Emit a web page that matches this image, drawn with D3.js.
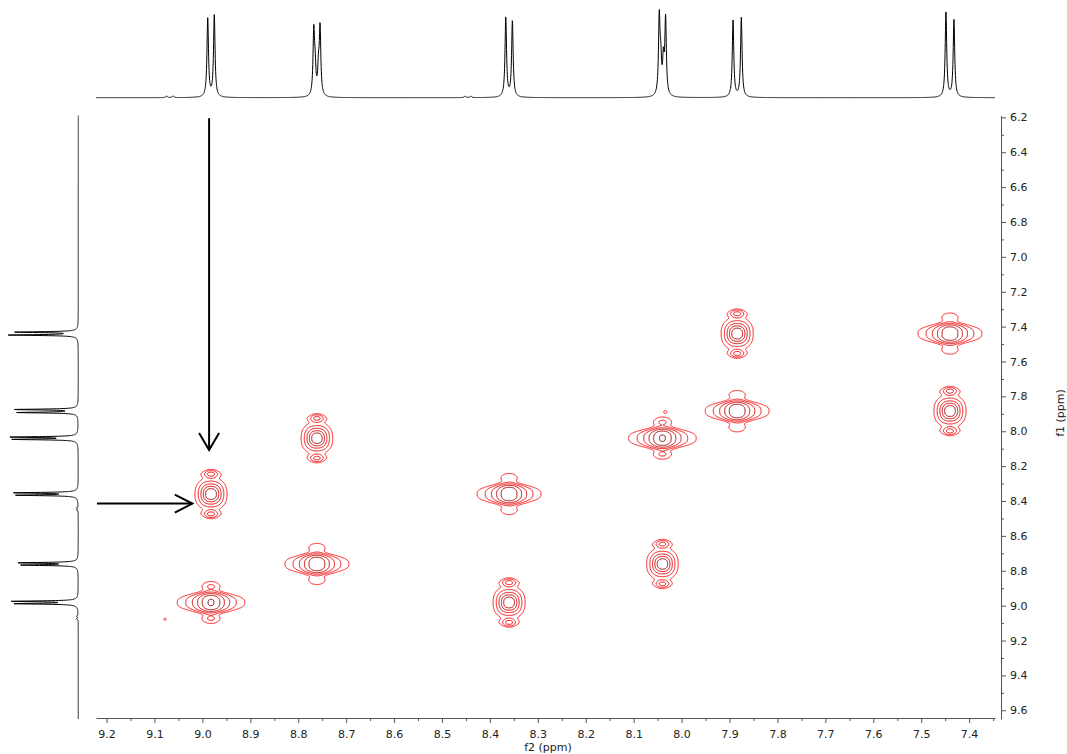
<!DOCTYPE html>
<html>
<head>
<meta charset="utf-8">
<script src="https://cdn.jsdelivr.net/npm/d3@7"></script>
<style>
  body { margin: 0; background: #fff; }
  svg { display: block; }
  text { font-family: "DejaVu Sans", Verdana, sans-serif; }
</style>
</head>
<body>
<svg id="chart" width="1067" height="754"></svg>
<script>
// ---- spectral data -------------------------------------------------------
// Multiplet centres (ppm) of the six aromatic doublets
const shifts = [8.982, 8.761, 8.360, 8.040, 7.884, 7.440];
// Doublet splitting of each multiplet (ppm)
const splittings = [0.0137, 0.0131, 0.0138, 0.0132, 0.0173, 0.0167];
// F2 projection: line heights of each doublet [high-ppm line, low-ppm line]
const topHeights = [[78.7, 81.7], [63.5, 67.0], [79.4, 75.7], [77.3, 76.0], [77.0, 79.7], [85.7, 78.0]];
// F1 projection: line heights of each doublet [high-ppm line, low-ppm line]
const sideHeights = [[61.6, 64.3], [55.0, 57.6], [60.0, 62.3], [63.3, 65.6], [60.0, 62.3], [68.3, 61.6]];
// Small long-range splittings seen as shoulders in F2 [ppm, height]
const shoulderLines = [[8.7647, 25], [8.7578, 25], [8.0434, 30], [8.0380, 33]];
// Trace impurity lines [ppm, height]
const minorLines = [[9.075, 1.7], [9.061, 1.7], [8.452, 1.5], [8.440, 1.5]];
// Correlation peaks: [F2 multiplet, F1 multiplet, intensity]
const crossPeaks = [
  [0, 0, 1.20], [0, 2, 1.05],
  [1, 1, 1.05], [1, 3, 1.00],
  [2, 2, 1.05], [2, 0, 1.05],
  [3, 3, 1.20], [3, 1, 1.00],
  [4, 4, 1.05], [4, 5, 1.05],
  [5, 5, 1.05], [5, 4, 1.05]
];
// Isolated weak responses: [F2 ppm, F1 ppm, intensity]
const weakPeaks = [[9.078, 9.078, 0.05], [8.034, 7.889, 0.055]];
// Axis tick labels
const f2Ticks = [9.2, 9.1, 9.0, 8.9, 8.8, 8.7, 8.6, 8.5, 8.4, 8.3, 8.2, 8.1, 8.0, 7.9, 7.8, 7.7, 7.6, 7.5, 7.4];
const f1Ticks = [6.2, 6.4, 6.6, 6.8, 7.0, 7.2, 7.4, 7.6, 7.8, 8.0, 8.2, 8.4, 8.6, 8.8, 9.0, 9.2, 9.4, 9.6];
// Contour levels (relative intensity)
const contourLevels = [0.035, 0.07, 0.14, 0.28, 0.56, 1.12];

// ---- layout --------------------------------------------------------------
const svg = d3.select("#chart");
const x = d3.scaleLinear().domain([9.222, 7.346]).range([96, 995]);
const y = d3.scaleLinear().domain([6.19, 9.65]).range([115.6, 719]);
const axisY = 718;       // bottom axis baseline
const axisX = 1001;      // right axis position
const topScale = d3.scaleLinear().domain([0, 100]).range([97.7, -2.3]);
const sideScale = d3.scaleLinear().domain([0, 100]).range([78.3, -21.7]);

// ---- 1D projections ------------------------------------------------------
const topLineWidth = 0.0019;   // Lorentzian half width (ppm)
const sideLineWidth = 0.0030;

function lines(heights) {
  const out = [];
  shifts.forEach((s, i) => {
    out.push([s + splittings[i] / 2, heights[i][0]]);
    out.push([s - splittings[i] / 2, heights[i][1]]);
  });
  return out;
}
const topLines = lines(topHeights).concat(shoulderLines, minorLines);
const sideLines = lines(sideHeights).concat(minorLines);

function spectrum(lineList, hw, from, to, n) {
  const pts = [];
  for (let k = 0; k <= n; k++) {
    const p = from + (to - from) * k / n;
    let v = 0;
    for (const [c, h] of lineList) {
      const u = (p - c) / hw;
      v += h / (1 + u * u);
    }
    pts.push([p, v]);
  }
  return pts;
}

const topData = spectrum(topLines, topLineWidth, x.domain()[0], x.domain()[1], 4500);
svg.append("path")
  .datum(topData)
  .attr("fill", "none")
  .attr("stroke", "#000")
  .attr("stroke-width", 1)
  .attr("d", d3.line().x(d => x(d[0])).y(d => topScale(d[1])));

const sideData = spectrum(sideLines, sideLineWidth, y.domain()[0], y.domain()[1], 7000);
svg.append("path")
  .datum(sideData)
  .attr("fill", "none")
  .attr("stroke", "#000")
  .attr("stroke-width", 1)
  .attr("d", d3.line().x(d => sideScale(d[1])).y(d => y(d[0])));

// ---- 2D contour map ------------------------------------------------------
const res = 0.5;                                  // grid step in px
const [px0, px1] = x.range(), [py0, py1] = y.range();
const nx = Math.ceil((px1 - px0) / res), ny = Math.ceil((py1 - py0) / res);
const gx = d3.scaleLinear().domain([0, nx]).range([x.invert(px0), x.invert(px0 + nx * res)]);
const gy = d3.scaleLinear().domain([0, ny]).range([y.invert(py0), y.invert(py0 + ny * res)]);
const field = new Float64Array(nx * ny);

const gauss = (d, s) => Math.exp(-d * d / (2 * s * s));
const powerShape = (d, h, p) => 1 / (1 + Math.pow(Math.abs(d) / h, p));

// Diagonal response (px offsets): long F2 tails, flat-topped F1 profile with side lobes
const diag = { h: 8.3, p: 2.5, w: 7.8, q: 3.0, lobePos: 16, lobeW: 3.9, lobeAmp: 0.065 };
function diagShape(dx, dy) {
  const fy = Math.exp(-Math.pow(Math.abs(dy) / diag.w, diag.q)) +
    diag.lobeAmp * (gauss(dy - diag.lobePos, diag.lobeW) + gauss(dy + diag.lobePos, diag.lobeW));
  return powerShape(dx, diag.h, diag.p) * fy;
}
// Cross response: rounded body plus small F1 side lobes
const cross = { hx: 5.6, hy: 5.6, p: 3.2, m: 2.4, lobePos: 20, lobeW: 2.4, lobeAmp: 0.16, lobeH: 5 };
function crossShape(dx, dy) {
  const r = Math.pow(Math.pow(Math.abs(dx) / cross.hx, cross.m) + Math.pow(Math.abs(dy) / cross.hy, cross.m), 1 / cross.m);
  const body = 1 / (1 + Math.pow(r, cross.p));
  const lobes = cross.lobeAmp * powerShape(dx, cross.lobeH, 2.8) *
    (gauss(dy - cross.lobePos, cross.lobeW) + gauss(dy + cross.lobePos, cross.lobeW));
  return body + lobes;
}
const weakShape = (dx, dy) => gauss(dx, 1.3) * gauss(dy, 1.3);

function addPeak(cx, cy, amp, shape) {
  const i0 = Math.max(0, Math.floor((cx - 80 - px0) / res)), i1 = Math.min(nx - 1, Math.ceil((cx + 80 - px0) / res));
  const j0 = Math.max(0, Math.floor((cy - 40 - py0) / res)), j1 = Math.min(ny - 1, Math.ceil((cy + 40 - py0) / res));
  for (let j = j0; j <= j1; j++) {
    const dy = y(gy(j + 0.5)) - cy;
    const row = j * nx;
    for (let i = i0; i <= i1; i++) {
      field[row + i] += amp * shape(x(gx(i + 0.5)) - cx, dy);
    }
  }
}

crossPeaks.forEach(([a, b, amp]) => {
  addPeak(x(shifts[a]), y(shifts[b]), amp, a === b ? diagShape : crossShape);
});
weakPeaks.forEach(([f2, f1, amp]) => addPeak(x(f2), y(f1), amp, weakShape));

const toScreen = d3.geoTransform({
  point(cx, cy) { this.stream.point(x(gx(cx)), y(gy(cy))); }
});
const contourPath = d3.geoPath(toScreen);
const levelColour = d3.scaleLinear()
  .domain([0, 2, contourLevels.length - 1])
  .range(["#ff1414", "#e80000", "#8f0000"])
  .interpolate(d3.interpolateRgb);

const contours = d3.contours().size([nx, ny]).thresholds(contourLevels)(field);
svg.append("g")
  .attr("fill", "none")
  .attr("stroke-width", 1)
  .selectAll("path")
  .data(contours)
  .join("path")
  .attr("stroke", (d, k) => levelColour(k))
  .attr("d", contourPath);

// ---- axes ----------------------------------------------------------------
const fmt = d3.format(".1f");
const f2Minor = d3.pairs(f2Ticks).map(([a, b]) => (a + b) / 2).concat([f2Ticks[f2Ticks.length - 1] - 0.05]);
const f1Minor = d3.pairs(f1Ticks).map(([a, b]) => (a + b) / 2);

svg.append("g").attr("transform", `translate(0,${axisY})`)
  .call(d3.axisBottom(x).tickValues(f2Ticks).tickFormat(fmt).tickSize(5).tickSizeOuter(0).tickPadding(7));
svg.append("g").attr("transform", `translate(0,${axisY})`)
  .call(d3.axisBottom(x).tickValues(f2Minor).tickFormat("").tickSize(3).tickSizeOuter(0))
  .call(g => g.select(".domain").remove());

svg.append("g").attr("transform", `translate(${axisX},0)`)
  .call(d3.axisRight(y).tickValues(f1Ticks).tickFormat(fmt).tickSize(5).tickSizeOuter(0).tickPadding(4));
svg.append("g").attr("transform", `translate(${axisX},0)`)
  .call(d3.axisRight(y).tickValues(f1Minor).tickFormat("").tickSize(3).tickSizeOuter(0))
  .call(g => g.select(".domain").remove());

svg.selectAll(".domain, .tick line").attr("stroke", "#555");
svg.selectAll(".tick text").attr("fill", "#222").style("font-size", "11px")
  .style("font-family", "'DejaVu Sans', Verdana, sans-serif");

svg.append("text")
  .attr("x", 548).attr("y", 751)
  .attr("text-anchor", "middle")
  .attr("fill", "#222").style("font-size", "11px")
  .text("f2 (ppm)");
svg.append("text")
  .attr("transform", "translate(1064,413) rotate(-90)")
  .attr("text-anchor", "middle")
  .attr("fill", "#222").style("font-size", "11px")
  .text("f1 (ppm)");

// ---- arrows marking the 8.98 / 8.36 correlation ---------------------------
const arrows = svg.append("g").attr("stroke", "#000").attr("stroke-width", 2).attr("fill", "none");
const ax = x(8.986), ayTop = y(6.205), ayTip = y(8.107);
arrows.append("line").attr("x1", ax).attr("y1", ayTop).attr("x2", ax).attr("y2", ayTip);
arrows.append("path").attr("d", `M${ax - 10},${ayTip - 17}L${ax},${ayTip}L${ax + 10},${ayTip - 17}`);
const hy = y(8.415), hxStart = x(9.220), hxTip = x(9.021);
arrows.append("line").attr("x1", hxStart).attr("y1", hy).attr("x2", hxTip).attr("y2", hy);
arrows.append("path").attr("d", `M${hxTip - 17.5},${hy - 9}L${hxTip},${hy}L${hxTip - 17.5},${hy + 9}`);
</script>
</body>
</html>
